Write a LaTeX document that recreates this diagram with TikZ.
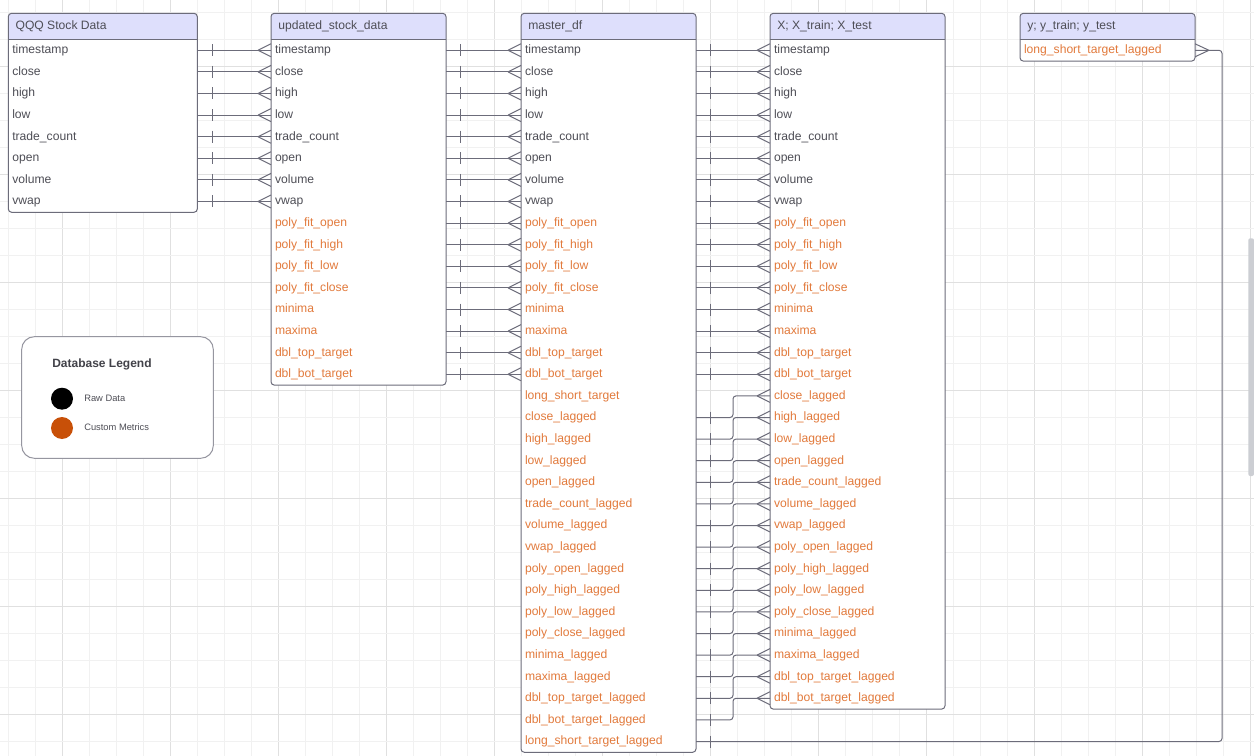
\documentclass[tikz,border=0pt]{standalone}
\usepackage{fontspec}
\setmainfont{Liberation Sans}
\usetikzlibrary{calc}
\definecolor{gridminor}{RGB}{241,241,241}
\definecolor{gridmajor}{RGB}{224,224,224}
\definecolor{hdrfill}{RGB}{222,223,252}
\definecolor{border}{RGB}{108,108,122}
\definecolor{rawtxt}{RGB}{78,78,86}
\definecolor{custtxt}{RGB}{226,122,60}
\definecolor{connc}{RGB}{108,108,122}
\definecolor{legorange}{RGB}{200,80,8}
\definecolor{legborder}{RGB}{150,150,160}
\definecolor{scrollc}{RGB}{204,206,211}

\newcommand\mybarE[1]{\draw[link] ($(#1.east)+(14.5,-6)$) -- ($(#1.east)+(14.5,6)$);}
\newcommand\mycrowW[1]{\draw[link] ($(#1.west)+(-13,0)$) -- ($(#1.west)+(0,-6.5)$) ($(#1.west)+(-13,0)$) -- ($(#1.west)+(0,6.5)$);}
\newcommand\mycrowE[1]{\draw[link] ($(#1.east)+(14,0)$) -- ($(#1.east)+(0,-6.5)$) ($(#1.east)+(14,0)$) -- ($(#1.east)+(0,6.5)$);}
\newcommand\straightlink[2]{\draw[link] (#1.east) -- (#2.west); \mybarE{#1}\mycrowW{#2}}
\newcommand\laglink[2]{\draw[lag] (#1.east) -- (#1.east -| lagx) -- (#2.west -| lagx) -- (#2.west); \mybarE{#1}\mycrowW{#2}}
\newcommand\mktable[5]{%
  \fill[white, rounded corners=2.5pt] (#2,13.3) rectangle (#3,{39.5+21.6*#4});
  \begin{scope}
    \clip[rounded corners=2.5pt] (#2,13.3) rectangle (#3,{39.5+21.6*#4});
    \fill[hdrfill] (#2,13.3) rectangle (#3,39.5);
  \end{scope}
  \draw[border, line width=0.75pt] (#2,39.5) -- (#3,39.5);
  \draw[border, line width=0.75pt, rounded corners=2.5pt] (#2,13.3) rectangle (#3,{39.5+21.6*#4});
  \node[hdrtext] (#1) at ({#2+7},26.4) {#5};
}
\newcommand\mkrows[5]{%
  \foreach \nm/\k in {#5} {\node[rowcell, #3, #4] (#1\k) at (#2,{50.3+21.6*\k}) {\nm};}
}

\begin{document}
\begin{tikzpicture}[x=0.75pt,y=-0.75pt,
  hdrtext/.style={anchor=west, inner sep=0pt, text=rawtxt, font=\fontsize{9.1}{11}\selectfont, text height=6.5pt, text depth=1.5pt},
  rowcell/.style={anchor=west, inner xsep=3pt, inner ysep=0pt, outer sep=0pt, minimum height=16.2pt, align=left, text height=6.5pt, text depth=1.5pt, font=\fontsize{9.1}{11}\selectfont},
  wideA/.style={text width=136pt},
  wideB/.style={text width=125.25pt},
  raw/.style={text=rawtxt},
  cust/.style={text=custtxt},
  link/.style={draw=connc, line width=0.75pt},
  lag/.style={link, rounded corners=2.25pt},
  legtext/.style={anchor=west, inner sep=0pt, text=rawtxt, font=\fontsize{7}{8}\selectfont},
  dot/.style={circle, inner sep=0pt, minimum size=16.5pt}
]
\useasboundingbox (0,0) rectangle (1254,756);
\fill[white] (0,0) rectangle (1254,756);
% grid
\foreach \i in {0,...,46} {
  \pgfmathtruncatemacro\m{mod(\i,4)}
  \ifnum\m=2 \draw[gridmajor, line width=0.75pt] ({8.7+27*\i},0) -- ({8.7+27*\i},756);
  \else \draw[gridminor, line width=0.75pt] ({8.7+27*\i},0) -- ({8.7+27*\i},756); \fi
}
\foreach \i in {0,...,27} {
  \pgfmathtruncatemacro\m{mod(\i,4)}
  \ifnum\m=2 \draw[gridmajor, line width=0.75pt] (0,{12.3+27*\i}) -- (1254,{12.3+27*\i});
  \else \draw[gridminor, line width=0.75pt] (0,{12.3+27*\i}) -- (1254,{12.3+27*\i}); \fi
}
% scroll bar
\fill[scrollc, rounded corners=1.5pt] (1248.3,238.3) rectangle (1254,476);

\coordinate (lagx) at (733,0);
\coordinate (rtx) at (1222,0);

% tables
\mktable{tq}{8.3}{197.3}{8}{QQQ Stock Data}
\mktable{tu}{271}{446}{16}{updated\_stock\_data}
\mktable{tm}{521}{696}{33}{master\_df}
\mktable{tx}{770}{945}{31}{X; X\_train; X\_test}
\mktable{ty}{1020}{1195}{1}{y; y\_train; y\_test}

% rows
\mkrows{q}{8.3}{wideA}{raw}{timestamp/0,close/1,high/2,low/3,trade\_count/4,open/5,volume/6,vwap/7}
\mkrows{u}{271}{wideB}{raw}{timestamp/0,close/1,high/2,low/3,trade\_count/4,open/5,volume/6,vwap/7}
\mkrows{u}{271}{wideB}{cust}{poly\_fit\_open/8,poly\_fit\_high/9,poly\_fit\_low/10,poly\_fit\_close/11,minima/12,maxima/13,dbl\_top\_target/14,dbl\_bot\_target/15}
\mkrows{m}{521}{wideB}{raw}{timestamp/0,close/1,high/2,low/3,trade\_count/4,open/5,volume/6,vwap/7}
\mkrows{m}{521}{wideB}{cust}{poly\_fit\_open/8,poly\_fit\_high/9,poly\_fit\_low/10,poly\_fit\_close/11,minima/12,maxima/13,dbl\_top\_target/14,dbl\_bot\_target/15,long\_short\_target/16}
\mkrows{m}{521}{wideB}{cust}{close\_lagged/17,high\_lagged/18,low\_lagged/19,open\_lagged/20,trade\_count\_lagged/21,volume\_lagged/22,vwap\_lagged/23,poly\_open\_lagged/24,poly\_high\_lagged/25,poly\_low\_lagged/26,poly\_close\_lagged/27,minima\_lagged/28,maxima\_lagged/29,dbl\_top\_target\_lagged/30,dbl\_bot\_target\_lagged/31,long\_short\_target\_lagged/32}
\mkrows{x}{770}{wideB}{raw}{timestamp/0,close/1,high/2,low/3,trade\_count/4,open/5,volume/6,vwap/7}
\mkrows{x}{770}{wideB}{cust}{poly\_fit\_open/8,poly\_fit\_high/9,poly\_fit\_low/10,poly\_fit\_close/11,minima/12,maxima/13,dbl\_top\_target/14,dbl\_bot\_target/15}
\mkrows{x}{770}{wideB}{cust}{close\_lagged/16,high\_lagged/17,low\_lagged/18,open\_lagged/19,trade\_count\_lagged/20,volume\_lagged/21,vwap\_lagged/22,poly\_open\_lagged/23,poly\_high\_lagged/24,poly\_low\_lagged/25,poly\_close\_lagged/26,minima\_lagged/27,maxima\_lagged/28,dbl\_top\_target\_lagged/29,dbl\_bot\_target\_lagged/30}
\mkrows{y}{1020}{wideB}{cust}{long\_short\_target\_lagged/0}

% connectors
\foreach \k in {0,...,7} {\straightlink{q\k}{u\k}}
\foreach \k in {0,...,15} {\straightlink{u\k}{m\k}\straightlink{m\k}{x\k}}
\foreach \k in {17,...,31} {\pgfmathtruncatemacro\j{\k-1}\laglink{m\k}{x\j}}
\draw[lag] (m32.east) -- (m32.east -| rtx) -- (y0.east -| rtx) -- (y0.east);
\mybarE{m32}
\mycrowE{y0}

% legend
\draw[legborder, line width=0.75pt, fill=white, rounded corners=9.5pt] (21.7,336.7) rectangle (213.3,458.3);
\node[anchor=west, inner sep=0pt, text=rawtxt!85!black, font=\fontsize{9}{10}\selectfont\bfseries] (legtitle) at (52,364) {Database Legend};
\node[dot, fill=black] (rawdot) at (62,398.7) {};
\node[dot, fill=legorange] (custdot) at (62,428) {};
\node[legtext] (rawlbl) at (84,398.3) {Raw Data};
\node[legtext] (custlbl) at (84,427.3) {Custom Metrics};
\end{tikzpicture}
\end{document}
